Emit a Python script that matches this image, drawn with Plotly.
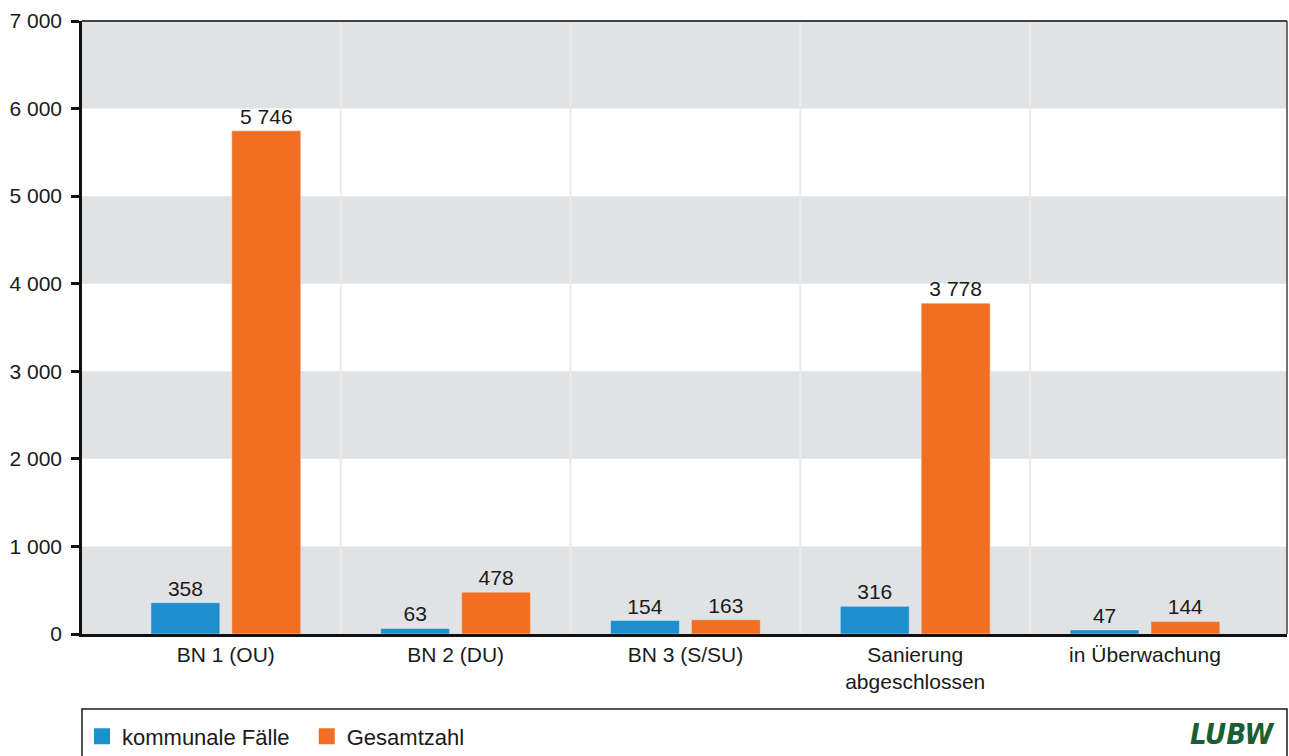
import plotly.graph_objects as go

categories = ["BN 1 (OU)", "BN 2 (DU)", "BN 3 (S/SU)", "Sanierung<br>abgeschlossen", "in Überwachung"]
kommunal = [358, 63, 154, 316, 47]
gesamt = [5746, 478, 163, 3778, 144]
series_names = ["kommunale Fälle\u00a0\u00a0", "Gesamtzahl"]
y_ticks = [0, 1000, 2000, 3000, 4000, 5000, 6000, 7000]

BLUE = "#1e8fcd"
ORANGE = "#f26f22"
BAND = "#e1e2e4"
FONT = "Liberation Sans, Arial, sans-serif"
FS = 21
TXT = "#1a1a1a"

x_idx = list(range(len(categories)))

fig = go.Figure()
for vals, col in [(kommunal, BLUE), (gesamt, ORANGE)]:
    fig.add_trace(go.Bar(x=x_idx, y=vals, marker_color=col, showlegend=False,
                         texttemplate="%{y:,d}", textposition="outside",
                         textfont=dict(size=FS, color=TXT), cliponaxis=False))
# legend entries with larger square symbols
for name, col in zip(series_names, [BLUE, ORANGE]):
    fig.add_trace(go.Scatter(x=[None], y=[None], mode="markers", name=name,
                             marker=dict(symbol="square", size=16, color=col)))

shapes = []
for i in range(0, len(y_ticks) - 1, 2):
    shapes.append(dict(type="rect", xref="paper", yref="y", x0=0, x1=1,
                       y0=y_ticks[i], y1=y_ticks[i + 1], fillcolor=BAND,
                       line=dict(width=0), layer="below"))
for k in range(len(categories) - 1):
    shapes.append(dict(type="line", xref="x", yref="paper", x0=k + 0.5, x1=k + 0.5,
                       y0=0, y1=1, line=dict(color="#ebebeb", width=2), layer="below"))
shapes.append(dict(type="line", xref="paper", yref="paper", x0=0, x1=1, y0=1, y1=1,
                   line=dict(color="#444444", width=2)))
shapes.append(dict(type="line", xref="paper", yref="paper", x0=1, x1=1, y0=0, y1=1,
                   line=dict(color="#444444", width=1.5)))
shapes.append(dict(type="rect", xref="paper", yref="paper", x0=0, x1=1,
                   y0=-0.23, y1=-0.1223, line=dict(color="#1a1a1a", width=1.5),
                   fillcolor="rgba(0,0,0,0)"))

fig.update_layout(
    width=1289, height=756,
    margin=dict(l=82, r=2, t=21, b=122, autoexpand=False),
    paper_bgcolor="white", plot_bgcolor="white",
    separators=", ",
    font=dict(family=FONT, size=FS, color=TXT),
    barmode="group", bargap=0.296, bargroupgap=0.148,
    showlegend=True,
    legend=dict(orientation="h", x=0.0, y=-0.133, xanchor="left", yanchor="top",
                font=dict(size=22, family=FONT, color=TXT),
                bgcolor="rgba(0,0,0,0)", traceorder="normal", itemwidth=30),
    shapes=shapes,
    xaxis=dict(range=[-0.626, 4.618], tickmode="array", tickvals=x_idx,
               ticktext=categories, showgrid=False, zeroline=False,
               showline=True, linecolor="#111111", linewidth=2.5, ticks="",
               tickfont=dict(size=FS, family=FONT, color=TXT)),
    yaxis=dict(range=[0, 7000], tickvals=y_ticks, tickformat=",d",
               showgrid=False, zeroline=False, showline=True,
               linecolor="#111111", linewidth=2.5, ticks="outside",
               ticklen=8, tickwidth=2.5, tickcolor="#111111",
               ticklabelstandoff=5,
               tickfont=dict(size=FS, family=FONT, color=TXT)),
    annotations=[dict(text="<b><i>LUBW</i></b>", xref="paper", yref="paper",
                      x=0.9915, y=-0.163, xanchor="right", yanchor="middle",
                      showarrow=False,
                      font=dict(size=29, family="Liberation Sans Narrow, DejaVu Sans Condensed, sans-serif",
                                color="#1b5e31"))],
)

fig.write_html("out.html",
               config={"displayModeBar": False},
               post_script="document.body.style.margin='0px';document.body.style.overflow='hidden';")
